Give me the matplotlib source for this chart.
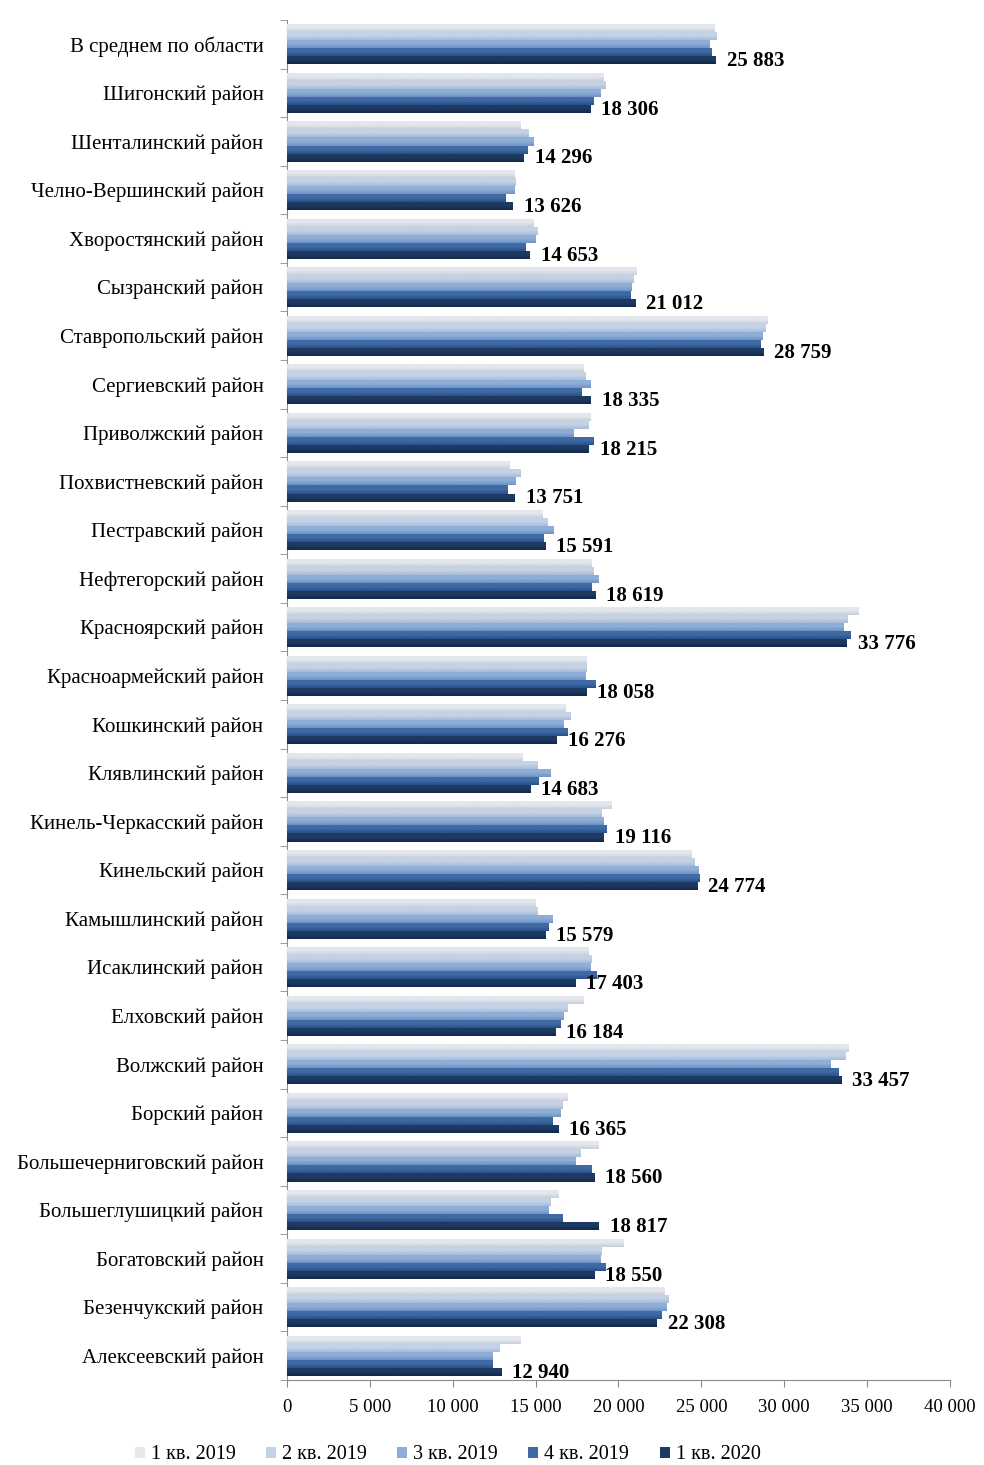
import numpy as np
import matplotlib
matplotlib.use("Agg")
import matplotlib.pyplot as plt

plt.rcParams['font.family'] = ['Liberation Serif', 'DejaVu Serif']

# categories, bottom to top (as matplotlib draws them)
districts = [
    "Алексеевский район", "Безенчукский район", "Богатовский район",
    "Большеглушицкий район", "Большечерниговский район", "Борский район",
    "Волжский район", "Елховский район", "Исаклинский район",
    "Камышлинский район", "Кинельский район", "Кинель-Черкасский район",
    "Клявлинский район", "Кошкинский район", "Красноармейский район",
    "Красноярский район", "Нефтегорский район", "Пестравский район",
    "Похвистневский район", "Приволжский район", "Сергиевский район",
    "Ставропольский район", "Сызранский район", "Хворостянский район",
    "Челно-Вершинский район", "Шенталинский район", "Шигонский район",
    "В среднем по области",
]

q1_2019 = [14100, 22800, 20300, 16400, 18800, 16900, 33900, 17900, 18200,
           15000, 24400, 19600, 14200, 16800, 18100, 34500, 18400, 15400,
           13400, 18300, 17900, 29000, 21100, 14900, 13700, 14100, 19100,
           25800]
q2_2019 = [12800, 23000, 19000, 15900, 17700, 16600, 33700, 16900, 18400,
           15100, 24600, 19000, 15100, 17100, 18100, 33800, 18500, 15700,
           14100, 18200, 18000, 28900, 20900, 15100, 13800, 14600, 19200,
           25900]
q3_2019 = [12400, 22900, 18900, 15800, 17400, 16500, 32800, 16700, 18300,
           16000, 24800, 19100, 15900, 16700, 18000, 33600, 18800, 16100,
           13800, 17300, 18300, 28700, 20800, 15000, 13700, 14900, 18900,
           25500]
q4_2019 = [12400, 22600, 19200, 16600, 18400, 16000, 33300, 16500, 18700,
           15800, 24900, 19300, 15200, 16900, 18600, 34000, 18400, 15500,
           13300, 18500, 17800, 28600, 20700, 14400, 13200, 14500, 18500,
           25600]
q1_2020 = [12940, 22308, 18550, 18817, 18560, 16365, 33457, 16184, 17403,
           15579, 24774, 19116, 14683, 16276, 18058, 33776, 18619, 15591,
           13751, 18215, 18335, 28759, 21012, 14653, 13626, 14296, 18306,
           25883]

series_names = ["1 кв. 2019", "2 кв. 2019", "3 кв. 2019", "4 кв. 2019", "1 кв. 2020"]
series = [q1_2019, q2_2019, q3_2019, q4_2019, q1_2020]
colors = ["#e3e7ee", "#c3d2e6", "#8eaed8", "#3f6aa5", "#1e3a62"]
dark = ["#c9ced8", "#a9bcd6", "#6f93c4", "#2b5189", "#122848"]

fig = plt.figure(figsize=(9.84, 14.65), dpi=100)
ax = fig.add_axes([0.2917, 0.058, 0.6737, 0.9283])

y = np.arange(len(districts))
h = 0.165

for i, vals in enumerate(series):
    bars = ax.barh(y + (2 - i) * h, vals, height=h, color=colors[i],
                   label=series_names[i], zorder=2)
    # vertical shading inside every bar
    grad = np.linspace(0, 1, 32).reshape(-1, 1)
    cmap = matplotlib.colors.LinearSegmentedColormap.from_list(
        "g%d" % i, [colors[i], colors[i], dark[i]])
    for b in bars:
        x0, y0 = b.get_x(), b.get_y()
        im = ax.imshow(grad, cmap=cmap, aspect='auto', origin='lower',
                       extent=(x0, x0 + b.get_width(), y0 + b.get_height(), y0),
                       zorder=3)
        im.set_clip_path(b)

# labels for the last quarter
for yi, v in zip(y, q1_2020):
    ax.text(v + 650, yi - 2 * h - 0.02, f"{v:,}".replace(",", " "),
            va='center', ha='left', fontsize=15, fontweight='bold', zorder=4)

ax.set_xlim(0, 40000)
ax.set_ylim(-0.5, len(districts) - 0.5)
ax.set_xticks(np.arange(0, 40001, 5000))
ax.set_xticklabels([f"{t:,}".replace(",", " ") for t in range(0, 40001, 5000)],
                   fontsize=13.5)
ax.xaxis.set_tick_params(pad=9, length=5, color="#8c8c8c")

ax.set_yticks(y)
ax.set_yticklabels(districts, fontsize=15)
ax.yaxis.set_tick_params(length=0, pad=17)
ax.set_yticks(np.arange(-0.5, len(districts), 1), minor=True)
ax.yaxis.set_tick_params(which='minor', length=5, color="#8c8c8c")

for s in ["top", "right"]:
    ax.spines[s].set_visible(False)
for s in ["left", "bottom"]:
    ax.spines[s].set_color("#8c8c8c")

handles, labels = ax.get_legend_handles_labels()
leg = fig.legend(handles, labels, loc='lower center', ncol=5, frameon=False,
                 fontsize=14.5, handlelength=0.5, handleheight=0.5,
                 handletextpad=0.3, columnspacing=1.5,
                 bbox_to_anchor=(0.455, -0.012))

fig.savefig("out.png", dpi=100)
